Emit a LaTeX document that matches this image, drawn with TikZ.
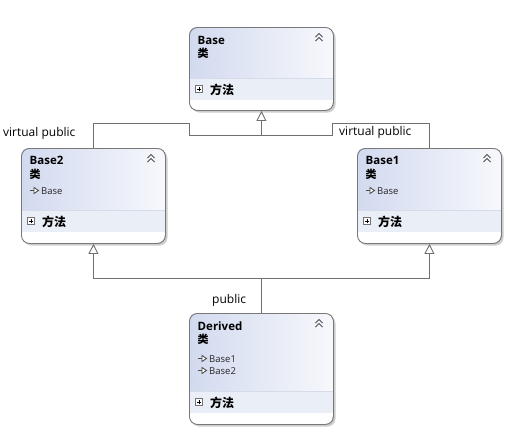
\documentclass[tikz,border=0pt]{standalone}
\usepackage{fontspec}
\setmainfont{Open Sans}
\newfontfamily\cjk{Noto Sans CJK SC}
\usetikzlibrary{arrows.meta,calc}
\definecolor{boxborder}{RGB}{120,120,120}
\definecolor{hdrL}{RGB}{210,218,239}
\definecolor{hdrR}{RGB}{247,248,252}
\definecolor{bandcol}{RGB}{234,238,247}
\definecolor{divcol}{RGB}{214,219,232}
\definecolor{shadowcol}{RGB}{205,205,205}
\definecolor{linecol}{RGB}{112,112,112}
\definecolor{iconcol}{RGB}{80,80,80}
\tikzset{
  classshape/.style={draw=boxborder, line width=0.9pt, rounded corners=8pt, minimum width=144pt, inner sep=0pt},
  inh/.style={draw=linecol, line width=0.9pt},
  inharrow/.style={inh, -{Triangle[open, length=10pt, width=10pt]}},
  lbl/.style={font=\fontsize{12}{14}\selectfont, inner sep=0pt, anchor=base west, text=black},
  clstitle/.style={font=\fontsize{11.5}{14}\selectfont\bfseries, anchor=base west, inner sep=0pt},
  clskind/.style={font=\fontsize{11}{13}\selectfont\cjk\bfseries, anchor=base west, inner sep=0pt},
  clsmember/.style={font=\fontsize{9.5}{11}\selectfont, anchor=base west, inner sep=0pt, text=black!85},
  clsmethods/.style={font=\fontsize{12}{14}\selectfont\cjk\bfseries, anchor=base west, inner sep=0pt},
  plusbox/.style={draw=iconcol!80, line width=0.7pt, fill=white},
  pluscol/.style={draw=black, line width=0.8pt},
  membericon/.style={draw=iconcol, line width=0.9pt},
}
% name, left, top, bottom, divider
\newcommand\umlbox[5]{%
  \fill[shadowcol, rounded corners=8pt] ({#2+2.5},{#3+2.5}) rectangle ({#2+146.5},{#4+2.5});
  \begin{scope}
    \clip[rounded corners=8pt] (#2,#3) rectangle ({#2+144},#4);
    \fill[white] (#2,#3) rectangle ({#2+144},#4);
    \shade[left color=hdrL, right color=hdrR] (#2,#3) rectangle ({#2+144},#5);
    \fill[bandcol] (#2,#5) rectangle ({#2+144},{#5+22});
    \draw[divcol, line width=0.8pt] (#2,#5) -- ({#2+144},#5);
  \end{scope}
  \node[classshape, minimum height={(#4-#3)*1pt}, anchor=north west] (#1) at (#2,#3) {};
  \draw[iconcol, line width=1pt] ({#2+126.5},{#3+14}) -- ++(3.5,-3.5) -- ++(3.5,3.5)
    ({#2+126.5},{#3+10}) -- ++(3.5,-3.5) -- ++(3.5,3.5);
  \draw[plusbox] ({#2+6.5},{#5+7.5}) rectangle ++(7,7);
  \draw[pluscol] ({#2+8},{#5+11}) -- ++(4,0) ({#2+10},{#5+9}) -- ++(0,4);
  \node[clsmethods] (#1-methods) at ({#2+21},{#5+16}) {方法};
}
\newcommand\memicon[2]{%
  \draw[membericon] (#1,{#2-3.5}) -- ++(4.5,0);
  \draw[membericon, fill=white] ({#1+4.5},{#2-6.5}) -- ({#1+9},{#2-3.5}) -- ({#1+4.5},{#2-0.5}) -- cycle;
}
\begin{document}
\begin{tikzpicture}[x=1pt, y=-1pt]
\useasboundingbox (0,0) rectangle (517,445);
\fill[white] (0,0) rectangle (517,445);

% Base
\umlbox{base}{189}{27}{110}{78}
\node[clstitle] (base-title) at (197.5,44) {Base};
\node[clskind] (base-kind) at (197.5,57) {类};

% Base2
\umlbox{base2}{21}{148}{243}{210}
\node[clstitle] (base2-title) at (29.5,164) {Base2};
\node[clskind] (base2-kind) at (29.5,178) {类};
\memicon{29.5}{194}
\node[clsmember] (base2-m1) at (41,194) {Base};

% Base1
\umlbox{base1}{357}{148}{243}{210}
\node[clstitle] (base1-title) at (365.5,164) {Base1};
\node[clskind] (base1-kind) at (365.5,178) {类};
\memicon{365.5}{194}
\node[clsmember] (base1-m1) at (377,194) {Base};

% Derived
\umlbox{derived}{189}{313}{424}{391}
\node[clstitle] (derived-title) at (197.5,330) {Derived};
\node[clskind] (derived-kind) at (197.5,343) {类};
\memicon{197.5}{362}
\node[clsmember] (derived-m1) at (209,362) {Base1};
\memicon{197.5}{374}
\node[clsmember] (derived-m2) at (209,374) {Base2};

% connectors
\coordinate (j1) at ($(base.south)+(0,25)$);
\draw[inharrow] (base2.north) |- ($(base.south west)+(0,13)$) |- (j1) -- (base.south);
\draw[inh] (base1.north) |- ($(base.south east)+(-1,13)$) |- (j1);

\coordinate (j2) at ($(derived.north)+(0,-35)$);
\draw[inh] (derived.north) -- (j2);
\draw[inharrow] (j2) -| (base2.south);
\draw[inharrow] (j2) -| (base1.south);

% labels
\node[lbl] (lbl-left) at (3,136) {virtual public};
\node[lbl] (lbl-right) at (339,135) {virtual public};
\node[lbl] (lbl-pub) at (212,303) {public};
\end{tikzpicture}
\end{document}
